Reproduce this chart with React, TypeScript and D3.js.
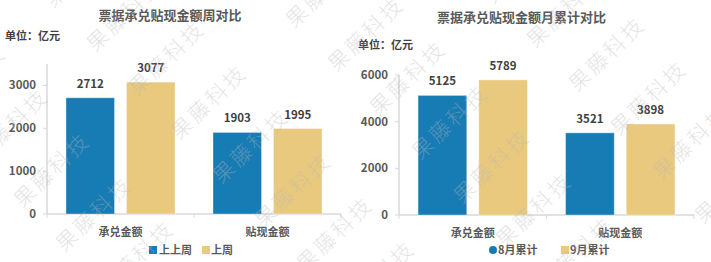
import React from 'react';
import * as d3 from 'd3';

const categories = ['承兑金额', '贴现金额'];
const weeklySeries = ['上上周', '上周'];
const weeklyValues = [
  [2712, 1903],
  [3077, 1995],
];
const weeklyTicks = [0, 1000, 2000, 3000];
const monthlySeries = ['8月累计', '9月累计'];
const monthlyValues = [
  [5125, 3521],
  [5789, 3898],
];
const monthlyTicks = [0, 2000, 4000, 6000];
const weeklyTitle = '票据承兑贴现金额周对比';
const monthlyTitle = '票据承兑贴现金额月累计对比';
const unitLabel = '单位：亿元';
const watermarkText = '果藤科技';

const COLORS = ['#187cb4', '#e8c97e'];
const FONT = '"Noto Sans CJK SC", "Noto Sans", sans-serif';

type PanelProps = {
  title: string;
  titleX: number;
  titleY: number;
  unitX: number;
  unitY: number;
  xRange: [number, number];
  yBase: number;
  yTop: number;
  domainMax: number;
  ticks: number[];
  series: string[];
  values: number[][];
  legendX: number[];
  legendTextX: number[];
  roundFirst: boolean;
};

function Panel(p: PanelProps) {
  const x0 = d3.scaleBand<string>().domain(categories).range(p.xRange).padding(0);
  const x1 = d3
    .scaleBand<string>()
    .domain(p.series)
    .range([0, x0.bandwidth()])
    .paddingInner(0.198)
    .paddingOuter(0.314);
  const y = d3.scaleLinear().domain([0, p.domainMax]).range([p.yBase, p.yTop]);
  const axisColor = '#d9d9d9';
  return (
    <g>
      <text
        x={p.titleX}
        y={p.titleY}
        textAnchor="middle"
        fontSize={13}
        fontWeight="bold"
        fill="#595959"
        fontFamily={FONT}
      >
        {p.title}
      </text>
      <text x={p.unitX} y={p.unitY} fontSize={11} fontWeight="bold" fill="#404040" fontFamily={FONT}>
        {unitLabel}
      </text>
      <line x1={p.xRange[0]} x2={p.xRange[0]} y1={y(0)} y2={y(p.domainMax)} stroke={axisColor} strokeWidth={1.5} />
      {p.ticks.map((t) => (
        <g key={t}>
          <line x1={p.xRange[0] - 4} x2={p.xRange[0]} y1={y(t)} y2={y(t)} stroke={axisColor} strokeWidth={1} />
          <text
            x={p.xRange[0] - 11}
            y={y(t)}
            dy="0.35em"
            textAnchor="end"
            fontSize={11.5}
            fontWeight="bold"
            fill="#595959"
            fontFamily={FONT}
          >
            {t}
          </text>
        </g>
      ))}
      <line x1={p.xRange[0]} x2={p.xRange[1]} y1={y(0)} y2={y(0)} stroke={axisColor} strokeWidth={1.5} />
      {[...categories.map((c) => x0(c) as number), p.xRange[1]].map((bx, i) => (
        <line key={i} x1={bx} x2={bx} y1={y(0)} y2={y(0) + 4} stroke={axisColor} strokeWidth={1} />
      ))}
      {categories.map((c) => (
        <text
          key={c}
          x={(x0(c) as number) + x0.bandwidth() / 2}
          y={y(0) + 18}
          dy="0.35em"
          textAnchor="middle"
          fontSize={11}
          fontWeight="bold"
          fill="#595959"
          fontFamily={FONT}
        >
          {c}
        </text>
      ))}
      {p.series.map((s, si) =>
        categories.map((c, ci) => {
          const v = p.values[si][ci];
          const bx = (x0(c) as number) + (x1(s) as number);
          return (
            <g key={s + c}>
              <rect
                x={bx}
                y={y(v)}
                width={x1.bandwidth()}
                height={y(0) - y(v)}
                fill={COLORS[si]}
                stroke="#ffffff"
                strokeOpacity={0.35}
                strokeWidth={1}
              />
              <text
                x={bx + x1.bandwidth() / 2}
                y={y(v) - 10}
                textAnchor="middle"
                fontSize={11.5}
                fontWeight="bold"
                fill="#404040"
                fontFamily={FONT}
              >
                {v}
              </text>
            </g>
          );
        })
      )}
      {p.series.map((s, si) => (
        <g key={'lg' + s}>
          <rect
            x={p.legendX[si]}
            y={246}
            width={8}
            height={8}
            rx={p.roundFirst && si === 0 ? 4 : 0}
            fill={COLORS[si]}
          />
          <text
            x={p.legendTextX[si]}
            y={250}
            dy="0.35em"
            fontSize={11}
            fontWeight="bold"
            fill="#595959"
            fontFamily={FONT}
          >
            {s}
          </text>
        </g>
      ))}
    </g>
  );
}

function Watermarks() {
  const items: { x: number; y: number; k: string }[] = [];
  const ox = 167,
    oy = 58,
    ax = 42,
    ay = 44,
    bx = 115,
    by = -112;
  for (let i = -12; i <= 14; i++) {
    for (let j = -6; j <= 6; j++) {
      const x = ox + i * ax + j * bx;
      const yy = oy + i * ay + j * by;
      if (x > -70 && x < 780 && yy > -70 && yy < 335) items.push({ x, y: yy, k: `${i}_${j}` });
    }
  }
  return (
    <g pointerEvents="none">
      {items.map((it) => (
        <text
          key={it.k}
          x={0}
          y={0}
          transform={`translate(${it.x},${it.y}) rotate(-44)`}
          textAnchor="middle"
          dy="0.35em"
          fontSize={21}
          fontWeight={300}
          letterSpacing={3}
          fill="#b8b8b8"
          fillOpacity={0.4}
          fontFamily={FONT}
        >
          {watermarkText}
        </text>
      ))}
    </g>
  );
}

export default function App() {
  return (
    <svg
      width={711}
      height={262}
      style={{ position: 'absolute', left: 0, top: 0, background: '#ffffff' }}
    >
      <rect width={711} height={262} fill="#ffffff" />
      <Panel
        title={weeklyTitle}
        titleX={170}
        titleY={20}
        unitX={5}
        unitY={40}
        xRange={[47, 341]}
        yBase={214}
        yTop={64}
        domainMax={3500}
        ticks={weeklyTicks}
        series={weeklySeries}
        values={weeklyValues}
        legendX={[149, 202]}
        legendTextX={[159, 211]}
        roundFirst={false}
      />
      <Panel
        title={monthlyTitle}
        titleX={521.5}
        titleY={22}
        unitX={358}
        unitY={49}
        xRange={[399, 694]}
        yBase={215}
        yTop={75}
        domainMax={6000}
        ticks={monthlyTicks}
        series={monthlySeries}
        values={monthlyValues}
        legendX={[489, 561]}
        legendTextX={[498, 570]}
        roundFirst={true}
      />
      <Watermarks />
    </svg>
  );
}
